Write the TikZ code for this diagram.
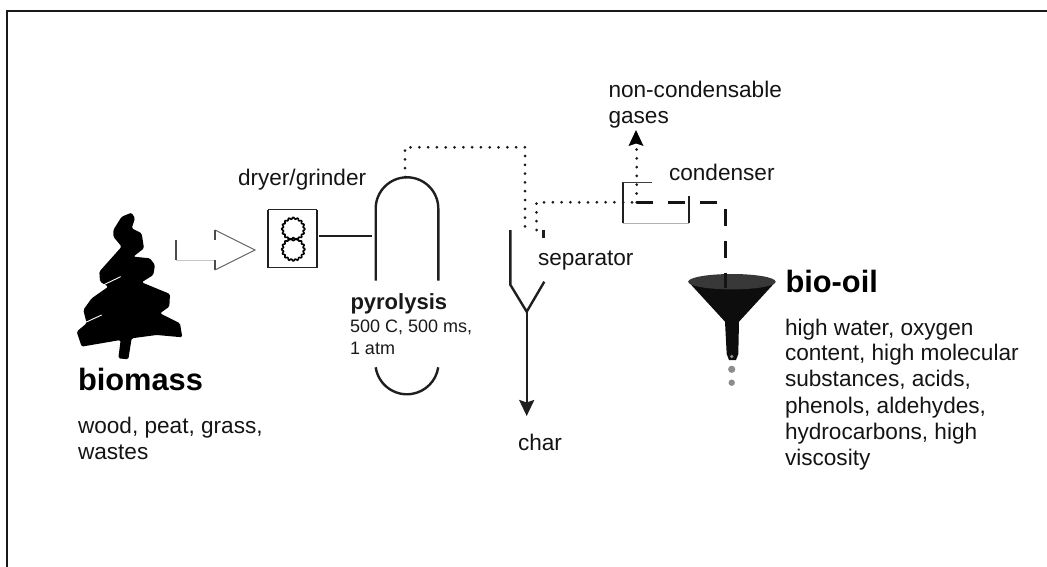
\documentclass[tikz,border=0pt]{standalone}
\usepackage{fontspec}
\setmainfont{Liberation Sans}
\usetikzlibrary{arrows.meta}
\newcommand{\bodyfs}{\fontsize{22.6}{26}\selectfont}
\newcommand{\smallfs}{\fontsize{18}{22}\selectfont}
\newcommand{\headfs}{\fontsize{30.8}{32}\selectfont\bfseries}
\tikzset{
  lbl/.style={anchor=base west,inner sep=0pt,outer sep=0pt,font=\bodyfs,text=black!92},
  head/.style={anchor=base west,inner sep=0pt,outer sep=0pt,font=\headfs},
  smalllbl/.style={anchor=base west,inner sep=0pt,outer sep=0pt,font=\smallfs,text=black!90},
  part/.style={line width=2.4pt,draw=black!88},
  flowdot/.style={line width=3pt,line cap=round,dash pattern=on 0pt off 8.8pt,draw=black!90},
  flowdash/.style={line width=3pt,dash pattern=on 16.7pt off 15pt,draw=black!92},
  gear/.style={line width=1.6pt,draw=black,line join=round},
  bigtip/.style={-{Stealth[length=16pt,width=15pt,inset=2.5pt]}},
}
\begin{document}
\begin{tikzpicture}[x=1pt,y=-1pt]
\useasboundingbox (0,0) rectangle (1047,567);
\draw[line width=2.6pt,draw=black!90] (1047,11) -- (7,11) -- (7,567);

% tree
\begin{scope}[shift={(50,150)},x=0.3333pt,y=-0.3333pt]
\fill[black,rounded corners=1.5pt] (245,188)--(255,205)--(245,235)--(275,250)--(282,295)--(250,320)--(300,325)--(315,345)--(310,375)--(275,397)--(360,432)--(358,470)--(330,490)--(390,520)--(397,562)--(320,555)--(245,565)--(235,628)--(205,625)--(212,570)--(95,590)--(80,545)--(110,520)--(100,480)--(125,445)--(175,410)--(150,395)--(148,365)--(215,290)--(190,260)--(190,240)--(215,200)--cycle;
\draw[white,line width=0.9pt] (160,405)--(212,380) (105,518)--(155,495);
\end{scope}

% hollow arrow
\coordinate (ha1) at (176,240);
\coordinate (ha2) at (176,260);
\coordinate (ha3) at (215,260);
\coordinate (ha4) at (215,270);
\coordinate (hatip) at (255,250);
\coordinate (ha5) at (215,230);
\coordinate (ha6) at (215,240);
\draw[line width=1.4pt,black!70] (ha1)--(ha2);
\draw[line width=1pt,black!22] (ha2)--(ha3);
\draw[line width=1.4pt,black!70] (ha3)--(ha4);
\draw[line width=.9pt,black!60] (ha4)--(hatip)--(ha5);
\draw[line width=1.4pt,black!70] (ha5)--(ha6);

% dryer
\coordinate (dryNW) at (268,209.5);
\coordinate (dryNE) at (316.7,209.5);
\coordinate (drySE) at (316.7,267.5);
\coordinate (drySW) at (268,267.5);
\coordinate (dryOut) at (318.7,236);
\draw[line width=2.4pt,black!88] (dryNW)--(drySW) (dryNE)--(drySE);
\draw[line width=1.5pt,black!85] (dryNW)--(dryNE) (drySW)--(drySE);
\foreach \cy in {229,249.3}{
  \draw[gear] plot[domain=0:360,samples=97] ({293.3+(10.8+0.9*cos(16*\x))*cos(\x)},{\cy+(10.8+0.9*cos(16*\x))*sin(\x)}) -- cycle;
}

% pyrolysis
\coordinate (pyrIn) at (371.7,236);
\coordinate (pyrTop) at (405,177);
\draw[part] (375.7,280.7)--(375.7,208.6) arc[start angle=180,end angle=360,radius=31.3]--(438.3,280.7);
\draw[part] (375.7,367.3) arc[start angle=171.6,end angle=8.4,radius=31.6];
\draw[part,line width=2pt] (dryOut)--(pyrIn);

% separator
\coordinate (sepL) at (525,230);
\coordinate (sepR) at (536.5,230);
\coordinate (sepBase) at (526.7,311.7);
\coordinate (charTip) at (526.7,416);
\draw[part] (510.3,230)--(510.3,284.7)--(sepBase)--(544.3,281.7);
\draw[part] (543.3,230)--(543.3,238);
\draw[part,bigtip] (sepBase)--(charTip);

% dotted flows
\coordinate (c1) at (405,147.3);
\coordinate (c2) at (525,147.3);
\draw[flowdot] (pyrTop)--(c1)--(c2)--(sepL);
\coordinate (c3) at (536.5,202.3);
\coordinate (condIn) at (636.7,202.3);
\draw[flowdot] (sepR)--(c3)--(condIn);
\coordinate (gasTip) at (636,130);
\draw[flowdot] (condIn)--(636.7,146);
\fill[black] (gasTip)--(643.5,146)--(636,143.5)--(628.5,146)--cycle;

% condenser
\draw[line width=2.4pt,black!88] (622.7,182.3)--(622.7,223.3);
\draw[line width=1.2pt,black!75] (622.7,182.3)--(652.3,182.3);
\draw[line width=1.2pt,black!30] (622.7,223.3)--(689,223.3);
\draw[line width=2.4pt,black!88] (689,196)--(689,223.3);

% funnel
\fill[black!95] (688.3,281.7)--(725,321.7)--(726.7,354)--(729,360)--(736,360)--(738.3,354)--(739,321.7)--(775.7,281.7)--cycle;
\fill[black!78] (731.9,281.7) ellipse[x radius=43.7,y radius=7.7];
\fill[black!45] (731.7,356.5) circle[radius=1.8];
\fill[black!45] (731.7,369.3) circle[radius=3.6];
\fill[black!45] (731.7,382.7) circle[radius=3.2];
\coordinate (funnelTop) at (725,288);
\draw[flowdash] (condIn)--(725,202.3)--(funnelTop);

% text
\node[lbl] (ngas) at (608.5,97.3) {non-condensable};
\node[lbl] (ngas2) at (608.5,124) {gases};
\node[lbl] (dry) at (238,185.7) {dryer/grinder};
\node[lbl] (cond) at (669,180.7) {condenser};
\node[lbl] (sep) at (538,265) {separator};
\node[lbl] (char) at (518,450.7) {char};
\node[smalllbl,font=\fontsize{22}{24}\selectfont\bfseries] (pyr) at (350.5,309.3) {pyrolysis};
\node[smalllbl] (pyr2) at (350,332.3) {500 C, 500 ms,};
\node[smalllbl] (pyr3) at (350,354) {1 atm};
\node[head] (bm) at (78,390.7) {biomass};
\node[lbl] (bm1) at (78,433.3) {wood, peat, grass,};
\node[lbl] (bm2) at (78,459) {wastes};
\node[head] (bo) at (785.5,292) {bio-oil};
\foreach \n/\y/\t in {a/335/{high water, oxygen},b/360.8/{content, high molecular},c/386.8/{substances, acids,},d/413.2/{phenols, aldehydes,},e/439/{hydrocarbons, high},f/465/{viscosity}}{
  \node[lbl] (oil\n) at (785,\y) {\t};
}
\end{tikzpicture}
\end{document}
